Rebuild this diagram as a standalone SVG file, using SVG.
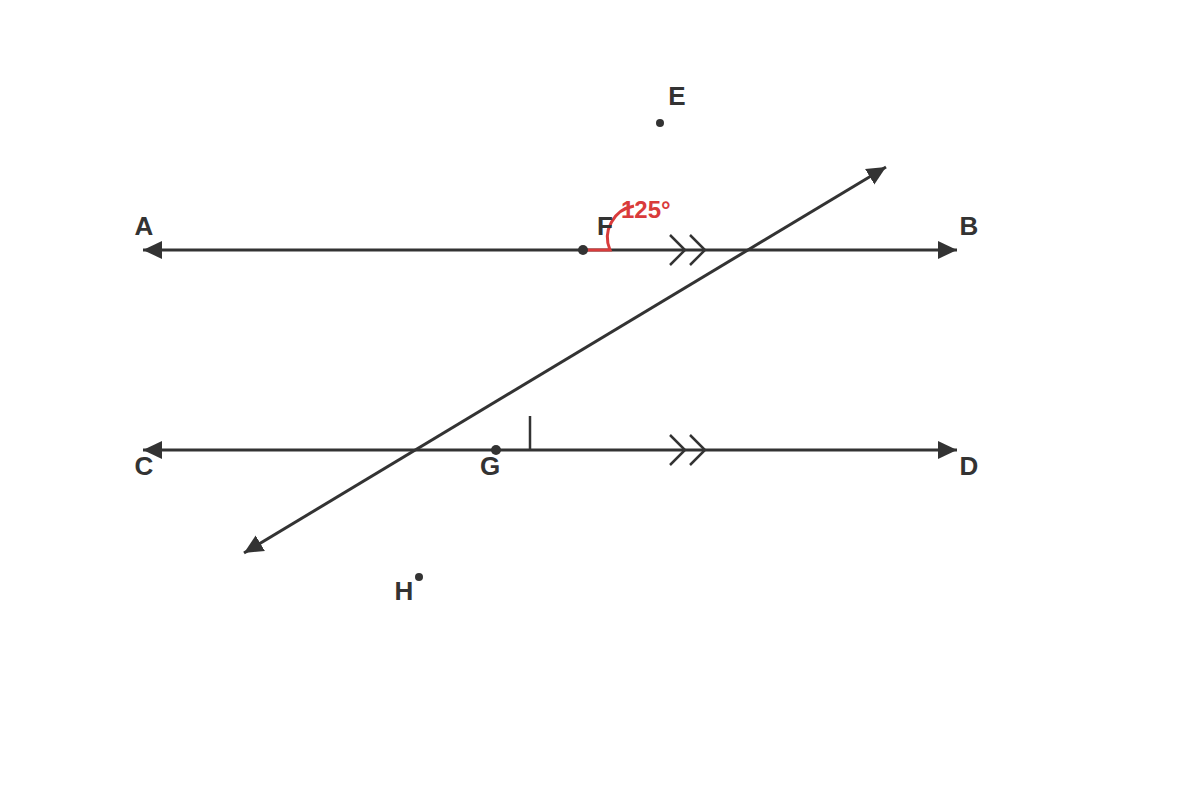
<svg xmlns="http://www.w3.org/2000/svg" width="1200" height="800" viewBox="0 0 1200 800">
<defs>
<marker id="arr" viewBox="0 0 20 20" refX="19" refY="10" markerWidth="20" markerHeight="20" markerUnits="userSpaceOnUse" orient="auto-start-reverse">
<path d="M0,1 L19,10 L0,19 Z" fill="#333"/>
</marker>
<style>
.ln{stroke:#333;stroke-width:3;fill:none}
.tk{stroke:#333;stroke-width:2.5;fill:none}
.lbl{font-family:"Liberation Sans",Arial,sans-serif;font-size:26px;font-weight:bold;fill:#333;text-anchor:middle}
.ang{font-family:"Liberation Sans",Arial,sans-serif;font-size:24px;font-weight:bold;fill:#d93b3b}
</style>
</defs>
<rect width="1200" height="800" fill="#fff"/>
<g id="connectors">
<line class="ln" x1="143" y1="250" x2="957" y2="250" marker-start="url(#arr)" marker-end="url(#arr)"/>
<line class="ln" x1="143" y1="450" x2="957" y2="450" marker-start="url(#arr)" marker-end="url(#arr)"/>
<line class="ln" x1="244" y1="553" x2="886" y2="167" marker-start="url(#arr)" marker-end="url(#arr)"/>
<path class="tk" d="M670,235 L685,250 L670,265 M690,235 L705,250 L690,265"/>
<path class="tk" d="M670,435 L685,450 L670,465 M690,435 L705,450 L690,465"/>
<line class="tk" x1="530" y1="416" x2="530" y2="450"/>
</g>
<g id="angle">
<path d="M583,250 L610,250 A32,32 0 0 1 634,206" stroke="#d93b3b" stroke-width="3" fill="none"/>
<text class="ang" x="621" y="218">125°</text>
</g>
<g id="A"><text class="lbl" x="144" y="235">A</text></g>
<g id="B"><text class="lbl" x="969" y="235">B</text></g>
<g id="C"><text class="lbl" x="144" y="475">C</text></g>
<g id="D"><text class="lbl" x="969" y="475">D</text></g>
<g id="E"><circle cx="660" cy="123" r="4" fill="#333"/><text class="lbl" x="677" y="105">E</text></g>
<g id="F"><circle cx="583" cy="250" r="5" fill="#333"/><text class="lbl" x="605" y="235">F</text></g>
<g id="G"><circle cx="496" cy="450" r="5" fill="#333"/><text class="lbl" x="490" y="475">G</text></g>
<g id="H"><circle cx="419" cy="577" r="4" fill="#333"/><text class="lbl" x="404" y="600">H</text></g>
</svg>
